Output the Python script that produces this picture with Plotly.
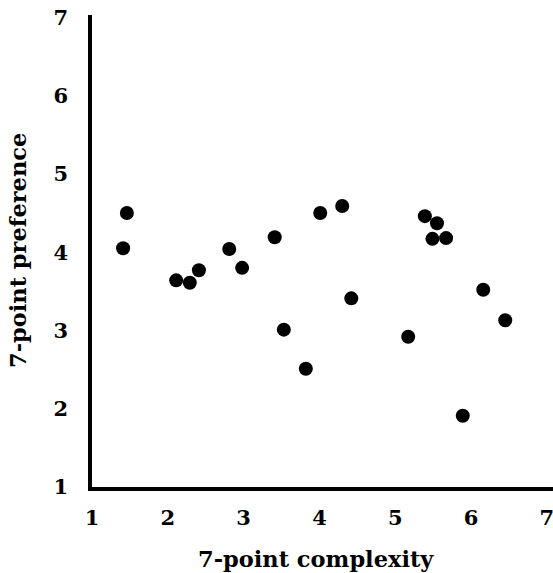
import plotly.graph_objects as go

complexity = [1.41, 1.46, 2.11, 2.29, 2.41, 2.81, 2.98, 3.41, 3.53, 3.82, 4.01,
              4.30, 4.42, 5.17, 5.39, 5.55, 5.49, 5.67, 5.89, 6.16, 6.45]
preference = [4.05, 4.50, 3.64, 3.61, 3.77, 4.04, 3.80, 4.19, 3.01, 2.51, 4.50,
              4.59, 3.41, 2.92, 4.46, 4.37, 4.17, 4.18, 1.91, 3.52, 3.13]
tick_vals = [1, 2, 3, 4, 5, 6, 7]
x_title = "7-point complexity"
y_title = "7-point preference"

FONT = "DejaVu Serif"

fig = go.Figure()
fig.add_trace(go.Scatter(
    x=complexity, y=preference, mode="markers",
    marker=dict(size=14, color="black"),
    showlegend=False, hoverinfo="skip"))

fig.update_layout(
    width=553, height=573,
    margin=dict(l=92, r=0, t=15, b=86),
    paper_bgcolor="white", plot_bgcolor="white",
    font=dict(family=FONT, color="black", size=21),
    xaxis=dict(range=[1, 7.08], tickvals=tick_vals, showgrid=False, zeroline=False,
               showline=True, linewidth=3.5, linecolor="black", ticks="",
               ticklabelstandoff=9, ticklabeloverflow="allow",
               tickfont=dict(family=FONT, size=21, weight="bold")),
    yaxis=dict(range=[1, 7.03], tickvals=tick_vals, showgrid=False, zeroline=False,
               showline=True, linewidth=3.5, linecolor="black", ticks="",
               ticklabelstandoff=16, ticklabeloverflow="allow",
               tickfont=dict(family=FONT, size=21, weight="bold")),
    annotations=[
        dict(text=x_title, xref="paper", yref="paper", x=(316 - 92) / 461,
             y=(487 - 574) / 472, showarrow=False, xanchor="center", yanchor="bottom",
             font=dict(family=FONT, size=22.5, weight="bold")),
        dict(text=y_title, xref="paper", yref="paper", x=(18 - 92) / 461,
             y=(487 - 251) / 472, showarrow=False, xanchor="center", yanchor="middle",
             textangle=-90, font=dict(family=FONT, size=22.5, weight="bold")),
    ],
)

fig.write_html("out.html")
